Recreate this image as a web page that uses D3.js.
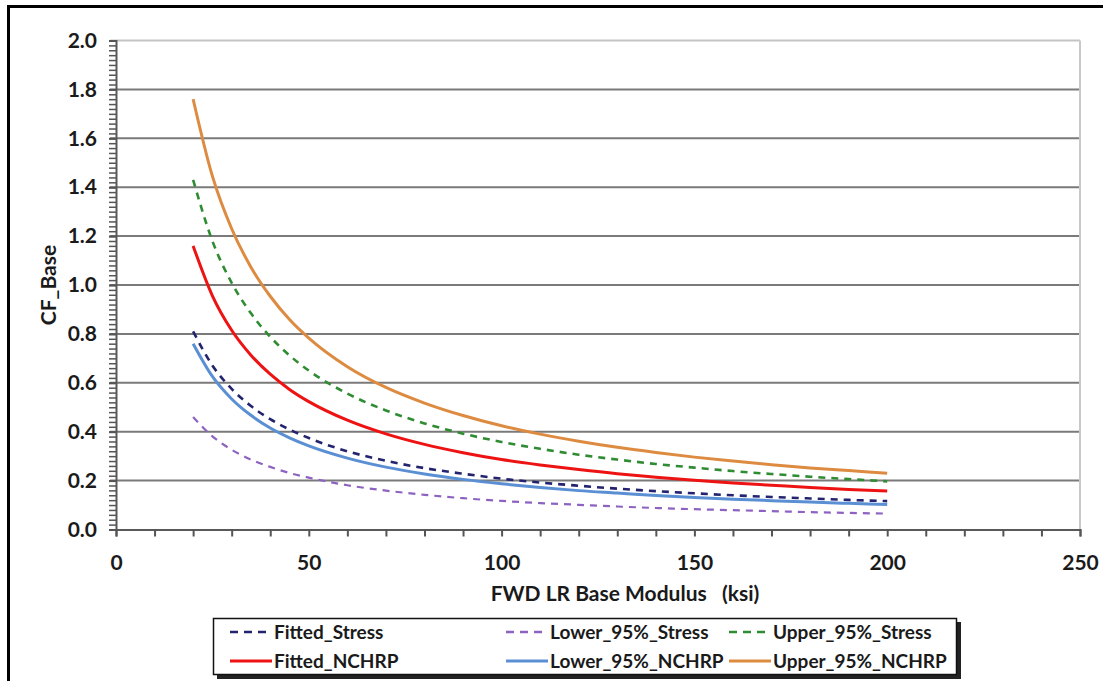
<!DOCTYPE html>
<html>
<head>
<meta charset="utf-8">
<script src="https://cdn.jsdelivr.net/npm/d3@7"></script>
<style>
  html, body { margin: 0; padding: 0; background: #ffffff; }
  svg { display: block; }
  text { font-family: Lato, "Open Sans", sans-serif; font-weight: bold; fill: #1a1a1a; }
</style>
</head>
<body>
<svg id="chart" width="1103" height="681"></svg>
<script>
// ---- data ----
const modulus = [20, 25, 30, 35, 40, 45, 50, 60, 70, 80, 90, 100, 110, 120, 130, 140, 150, 160, 170, 180, 190, 200];

const fittedStress  = [0.81, 0.671, 0.575, 0.505, 0.451, 0.409, 0.374, 0.320, 0.281, 0.251, 0.228, 0.208, 0.192, 0.179, 0.167, 0.157, 0.148, 0.140, 0.133, 0.127, 0.121, 0.116];
const lower95Stress = [0.46, 0.381, 0.326, 0.286, 0.256, 0.231, 0.212, 0.181, 0.159, 0.142, 0.128, 0.117, 0.108, 0.101, 0.094, 0.088, 0.083, 0.079, 0.075, 0.071, 0.068, 0.065];
const upper95Stress = [1.43, 1.180, 1.009, 0.884, 0.788, 0.712, 0.650, 0.556, 0.487, 0.434, 0.392, 0.358, 0.330, 0.306, 0.286, 0.268, 0.253, 0.239, 0.227, 0.216, 0.206, 0.197];
const fittedNCHRP   = [1.16, 0.956, 0.815, 0.713, 0.635, 0.573, 0.523, 0.447, 0.391, 0.348, 0.314, 0.286, 0.264, 0.245, 0.228, 0.214, 0.201, 0.190, 0.181, 0.172, 0.164, 0.157];
const lower95NCHRP  = [0.76, 0.626, 0.534, 0.467, 0.415, 0.375, 0.342, 0.292, 0.255, 0.227, 0.205, 0.187, 0.172, 0.159, 0.149, 0.139, 0.131, 0.124, 0.118, 0.112, 0.107, 0.102];
const upper95NCHRP  = [1.76, 1.445, 1.230, 1.073, 0.954, 0.859, 0.783, 0.666, 0.581, 0.517, 0.466, 0.424, 0.390, 0.361, 0.336, 0.315, 0.296, 0.280, 0.265, 0.252, 0.241, 0.230];

const seriesNames = ["Fitted_Stress", "Lower_95%_Stress", "Upper_95%_Stress", "Fitted_NCHRP", "Lower_95%_NCHRP", "Upper_95%_NCHRP"];
const yTickLabels = [0, 0.2, 0.4, 0.6, 0.8, 1.0, 1.2, 1.4, 1.6, 1.8, 2.0];
const xTickLabels = [0, 50, 100, 150, 200, 250];
const xTitle = "FWD LR Base Modulus\u00A0\u00A0 (ksi)";
const yTitle = "CF_Base";

// ---- styles ----
const styles = {
  "Fitted_Stress":    { color: "#23236f", width: 2.6, dash: "7,6" },
  "Lower_95%_Stress": { color: "#8d63c2", width: 2.2, dash: "7,6" },
  "Upper_95%_Stress": { color: "#2f8c32", width: 2.6, dash: "7,6" },
  "Fitted_NCHRP":     { color: "#ee1313", width: 3,   dash: null },
  "Lower_95%_NCHRP":  { color: "#5b8fd4", width: 3,   dash: null },
  "Upper_95%_NCHRP":  { color: "#dd8b40", width: 3,   dash: null }
};

const seriesValues = {
  "Fitted_Stress": fittedStress,
  "Lower_95%_Stress": lower95Stress,
  "Upper_95%_Stress": upper95Stress,
  "Fitted_NCHRP": fittedNCHRP,
  "Lower_95%_NCHRP": lower95NCHRP,
  "Upper_95%_NCHRP": upper95NCHRP
};

const svg = d3.select("#chart");

// outer frame (top and left black lines)
svg.append("line").attr("x1", 7).attr("x2", 1103).attr("y1", 6.5).attr("y2", 6.5)
  .attr("stroke", "#000").attr("stroke-width", 3);
svg.append("line").attr("x1", 8.5).attr("x2", 8.5).attr("y1", 5).attr("y2", 681)
  .attr("stroke", "#000").attr("stroke-width", 3);

const x = d3.scaleLinear().domain([0, 250]).range([116, 1080]);
const y = d3.scaleLinear().domain([0, 2]).range([529.5, 40.5]);

// gridlines
const grid = svg.append("g");
grid.selectAll("line.grid").data(yTickLabels.filter(d => d > 0))
  .join("line")
  .attr("x1", 110).attr("x2", x(250))
  .attr("y1", d => y(d)).attr("y2", d => y(d))
  .attr("stroke", d => d === 2 ? "#c4c4c4" : "#7a7a7a")
  .attr("stroke-width", 2);
// right plot border
svg.append("line").attr("x1", x(250)).attr("x2", x(250)).attr("y1", y(2)).attr("y2", y(0))
  .attr("stroke", "#c8c8c8").attr("stroke-width", 2);

// y axis minor ticks
const minorVals = d3.range(0, 101).map(i => i * 0.02);
const yMinor = svg.append("g").attr("transform", `translate(${x(0)},0)`)
  .call(d3.axisLeft(y).tickValues(minorVals).tickSize(7).tickFormat(""));
yMinor.select(".domain").remove();
yMinor.selectAll("line").attr("stroke", "#555").attr("stroke-width", 1.5);

// y axis major
const yAxis = svg.append("g").attr("transform", `translate(${x(0)},0)`)
  .call(d3.axisLeft(y).tickValues(yTickLabels).tickSize(7).tickPadding(12).tickFormat(d3.format(".1f")));
yAxis.select(".domain").attr("stroke", "#595959").attr("stroke-width", 2);
yAxis.selectAll("line").attr("stroke", "#555").attr("stroke-width", 2);
yAxis.selectAll("text").style("font-size", "21px").attr("fill", "#1a1a1a");

// x axis
const xMinorVals = d3.range(0, 26).map(i => i * 10);
const xAxis = svg.append("g").attr("transform", `translate(0,${y(0)})`)
  .call(d3.axisBottom(x).tickValues(xMinorVals).tickSize(7).tickPadding(19)
    .tickFormat(d => xTickLabels.includes(d) ? String(d) : ""));
xAxis.select(".domain").attr("stroke", "#595959").attr("stroke-width", 2);
xAxis.selectAll("line").attr("stroke", "#555").attr("stroke-width", 2);
xAxis.selectAll("text").style("font-size", "21px").attr("fill", "#1a1a1a");

// curves
const line = d3.line().x(d => x(d[0])).y(d => y(d[1])).curve(d3.curveMonotoneX);
const drawOrder = ["Fitted_NCHRP", "Lower_95%_NCHRP", "Upper_95%_NCHRP", "Fitted_Stress", "Lower_95%_Stress", "Upper_95%_Stress"];
drawOrder.forEach(name => {
  const st = styles[name];
  const pts = modulus.map((m, i) => [m, seriesValues[name][i]]);
  svg.append("path").datum(pts)
    .attr("d", line)
    .attr("fill", "none")
    .attr("stroke", st.color)
    .attr("stroke-width", st.width)
    .attr("stroke-dasharray", st.dash)
    .attr("stroke-linecap", "butt");
});

// axis titles
svg.append("text").attr("x", 625).attr("y", 601).attr("text-anchor", "middle")
  .style("font-size", "21px").text(xTitle);
svg.append("text").attr("transform", "translate(56,285) rotate(-90)").attr("text-anchor", "middle")
  .style("font-size", "21px").text(yTitle);

// legend
const lg = svg.append("g");
lg.append("rect").attr("x", 217).attr("y", 622).attr("width", 744).attr("height", 57).attr("fill", "#222");
lg.append("rect").attr("x", 213.5).attr("y", 618.5).attr("width", 743).attr("height", 56)
  .attr("fill", "#fff").attr("stroke", "#111").attr("stroke-width", 1.5);

const colSample = [230, 506, 729];
const colText = [274, 550, 773];
const rowY = [632, 661];
seriesNames.forEach((name, i) => {
  const col = i % 3, row = Math.floor(i / 3);
  const st = styles[name];
  const sx = colSample[col], ty = rowY[row];
  lg.append("line").attr("x1", sx).attr("x2", colText[col] - 2)
    .attr("y1", ty).attr("y2", ty)
    .attr("stroke", st.color).attr("stroke-width", st.dash ? 2.6 : 3)
    .attr("stroke-dasharray", st.dash ? "8,6" : null);
  lg.append("text").attr("x", colText[col]).attr("y", ty).attr("dy", "0.35em")
    .style("font-size", "19px").text(name);
});
</script>
</body>
</html>
